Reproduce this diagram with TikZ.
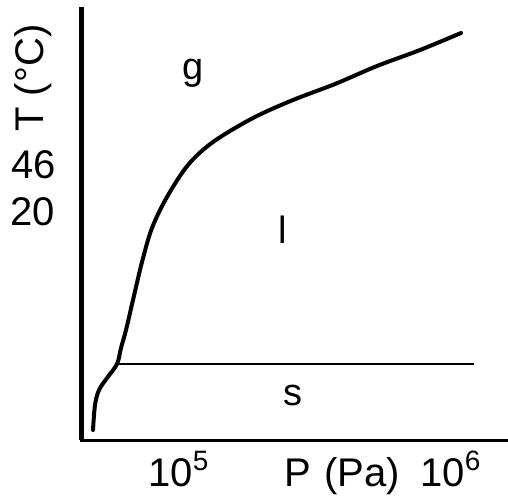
\documentclass[tikz,border=0pt]{standalone}
\usepackage{fontspec}
\setmainfont{Liberation Sans}
\usepackage{tikz}

\begin{document}
\begin{tikzpicture}[x=0.5pt, y=-0.5pt,
    axisline/.style={line width=2pt},
    boundary/.style={line width=2pt, line join=round, line cap=round},
    thinline/.style={line width=0.9pt},
    ticklabel/.style={inner sep=0pt, font=\fontsize{20}{24}\selectfont},
    phaselabel/.style={inner sep=0pt, font=\fontsize{19}{23}\selectfont}]
    \useasboundingbox (0,0) rectangle (508,495);
    % axes
    \coordinate (ytop) at (81.5,7);
    \coordinate (origin) at (81.5,440);
    \coordinate (xend) at (508,440);
    \draw[axisline, line width=2.5pt] (ytop) -- (origin);
    \draw[axisline, line width=1.5pt] ([xshift=-0.6pt]origin) -- (xend);
    % triple point and solid boundary
    \coordinate (triple) at (117,364);
    \coordinate (solidend) at (474,364);
    \draw[thinline] (triple) -- (solidend);
    % melting / vapour curve
    \draw[boundary] plot[smooth, tension=0.55] coordinates {
        (93,430) (95,405) (99,390) (107,378) (117,364) (121,348) (126,330)
        (133,300) (142,262) (152,228) (167,197) (188,165) (213,142)
        (253,118) (293,100) (335,84) (377,66) (420,50) (461,33)};
    % axis labels
    \node[ticklabel, rotate=90] (tlabel) at (33,78) {T (°C)};
    \node[ticklabel] (t46) at (34,165) {46};
    \node[ticklabel] (t20) at (33,212) {20};
    \node[ticklabel, anchor=base west] (p5) at (148,486) {10\textsuperscript{5}};
    \node[ticklabel, anchor=base west] (plabel) at (284,486) {P\,\,(Pa)};
    \node[ticklabel, anchor=base west] (p6) at (420,486) {10\textsuperscript{6}};
    % phase labels
    \node[phaselabel, anchor=base] (gas) at (193,79) {g};
    \node[phaselabel, anchor=base] (liquid) at (283,243) {l};
    \node[phaselabel, anchor=base] (solid) at (293,405) {s};
\end{tikzpicture}
\end{document}
